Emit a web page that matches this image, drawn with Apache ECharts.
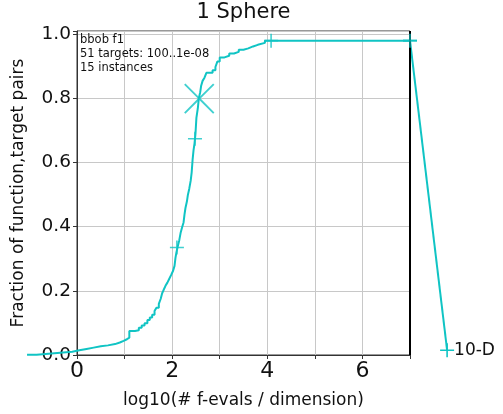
<!DOCTYPE html>
<html><head><meta charset="utf-8">
<script src="https://cdn.jsdelivr.net/npm/echarts@6/dist/echarts.min.js"></script>
<style>html,body{margin:0;padding:0;background:#fff}#c{width:503px;height:414px}</style>
</head><body><div id="c"></div>
<script>
// ECDF step points: log10(#f-evals / dimension) vs fraction of (function,target) pairs
const logEvals = [-1.05,-0.85,-0.6,-0.35,-0.1,0.05,0.2,0.35,0.5,0.65,0.8,0.9,0.98,1.05,1.1,1.22,1.3,1.36,1.42,1.48,1.53,1.58,1.63,1.67,1.72,1.76,1.79,1.82,1.86,1.9,1.94,1.98,2.02,2.05,2.07,2.09,2.12,2.15,2.18,2.21,2.24,2.26,2.28,2.31,2.33,2.36,2.39,2.41,2.43,2.45,2.47,2.49,2.51,2.54,2.56,2.59,2.61,2.64,2.68,2.72,2.85,2.91,2.95,3.0,3.1,3.2,3.3,3.4,3.5,3.6,3.7,3.8,3.95,7.0];
const fractions = [0.004,0.007,0.010,0.013,0.018,0.022,0.026,0.030,0.033,0.037,0.042,0.047,0.052,0.057,0.078,0.080,0.088,0.095,0.102,0.112,0.120,0.128,0.140,0.150,0.162,0.178,0.195,0.205,0.218,0.228,0.240,0.252,0.265,0.280,0.305,0.322,0.342,0.360,0.384,0.400,0.415,0.440,0.460,0.480,0.500,0.520,0.545,0.570,0.610,0.640,0.660,0.690,0.740,0.770,0.800,0.820,0.840,0.855,0.865,0.880,0.888,0.898,0.915,0.928,0.933,0.940,0.945,0.952,0.956,0.962,0.967,0.973,0.980,0.980];
const plusX = [2.1, 2.48, 4.08, 7.0];
const plusY = [0.337, 0.675, 0.980, 0.980];
const starX = [2.57];
const starY = [0.80];
const tailX = [7.0, 7.78];
const tailY = [0.98, 0.018];
const dimLabel = '10-D';
const xTicks = [0, 2, 4, 6];
const yTicks = [0.0, 0.2, 0.4, 0.6, 0.8, 1.0];
const titleText = '1 Sphere';
const infoText = 'bbob f1\n51 targets: 100..1e-08\n15 instances';

const COLOR = '#10c4c4';
const FONT = 'DejaVu Sans';
const plusPath = 'path://M6.2,0 H7.8 V6.2 H14 V7.8 H7.8 V14 H6.2 V7.8 H0 V6.2 H6.2 Z';
const crossPath = 'path://M14.3,0 H15.7 V14.3 H30 V15.7 H15.7 V30 H14.3 V15.7 H0 V14.3 H14.3 Z';

// main plot frame
const W = 503, L = 77, R = 93, T = 31, B = 58;
const XMIN = 0, XMAX = 7;
const pxPerUnit = (W - L - R) / (XMAX - XMIN);
// overlay grid with wider x extent but same scale (lets the curve run outside the frame)
const OX0 = -1.2, OX1 = 8;
const oLeft = L - (XMIN - OX0) * pxPerUnit;
const oRight = W - (L + (OX1 - XMIN) * pxPerUnit);

const chart = echarts.init(document.getElementById('c'), null, {renderer: 'canvas'});
chart.setOption({
  animation: false,
  backgroundColor: '#fff',
  grid: [
    {left: L, right: R, top: T, bottom: B, show: true, borderColor: '#333', borderWidth: 1, backgroundColor: 'transparent'},
    {left: oLeft, right: oRight, top: T, bottom: B, show: false}
  ],
  xAxis: [{
    type: 'value', min: XMIN, max: XMAX, interval: 1, gridIndex: 0,
    axisLine: {onZero: false, lineStyle: {color: '#333', width: 1}},
    axisTick: {show: true, length: 4, lineStyle: {color: '#333'}},
    axisLabel: {fontFamily: FONT, fontSize: 22, color: '#111', margin: 5,
      formatter: v => xTicks.indexOf(Math.round(v)) >= 0 && Math.abs(v - Math.round(v)) < 1e-6 ? String(Math.round(v)) : ''},
    splitLine: {show: true, lineStyle: {color: '#c8c8c8', width: 1}},
    name: 'log10(# f-evals / dimension)', nameLocation: 'middle', nameGap: 37,
    nameTextStyle: {fontFamily: FONT, fontSize: 17, color: '#111'}
  }, {
    type: 'value', min: OX0, max: OX1, gridIndex: 1, show: false
  }],
  yAxis: [{
    type: 'value', min: 0, max: 1.01, interval: 0.2, gridIndex: 0,
    axisLine: {show: true, lineStyle: {color: '#333', width: 1}},
    axisTick: {show: true, length: 4, lineStyle: {color: '#333'}},
    axisLabel: {fontFamily: FONT, fontSize: 18.5, color: '#111', margin: 6,
      formatter: v => { const k = yTicks.findIndex(t => Math.abs(t - v) < 1e-6); return k >= 0 ? yTicks[k].toFixed(1) : ''; }},
    splitLine: {show: true, lineStyle: {color: '#c8c8c8', width: 1}},
    name: 'Fraction of function,target pairs', nameLocation: 'middle', nameGap: 50,
    nameTextStyle: {fontFamily: FONT, fontSize: 17, color: '#111'}
  }, {
    type: 'value', min: 0, max: 1.01, gridIndex: 1, show: false
  }],
  graphic: [
    {type: 'text', x: 243.5, y: 2, style: {text: titleText, font: '21px "DejaVu Sans"', fill: '#111', textAlign: 'center', textVerticalAlign: 'top'}},
    {type: 'text', x: 80, y: 33, z: 10, style: {text: infoText, font: '11.5px "DejaVu Sans"', fill: '#111', lineHeight: 14, textVerticalAlign: 'top'}}
  ],
  series: [
    {
      type: 'line', xAxisIndex: 0, yAxisIndex: 0, data: [], silent: true,
      markLine: {silent: true, symbol: 'none', label: {show: false}, animation: false,
        lineStyle: {color: '#000', width: 2, type: 'solid'}, data: [{xAxis: 7}]}
    },
    {
      type: 'line', xAxisIndex: 1, yAxisIndex: 1, step: 'end', clip: false, showSymbol: false, silent: true,
      data: logEvals.map((x, i) => [x, fractions[i]]),
      lineStyle: {color: COLOR, width: 2}, z: 3
    },
    {
      type: 'line', xAxisIndex: 1, yAxisIndex: 1, clip: false, silent: true, showSymbol: true, showAllSymbol: true,
      symbol: plusPath, symbolSize: 14,
      data: tailX.map((x, i) => [x, tailY[i]]),
      lineStyle: {color: COLOR, width: 2}, itemStyle: {color: COLOR},
      label: {show: true, position: 'right', distance: 0, fontFamily: FONT, fontSize: 17, color: '#111',
        formatter: p => p.dataIndex === tailX.length - 1 ? dimLabel : ''},
      z: 4
    },
    {
      type: 'scatter', xAxisIndex: 1, yAxisIndex: 1, clip: false, silent: true, symbol: plusPath, symbolSize: 14,
      data: plusX.map((x, i) => [x, plusY[i]]), itemStyle: {color: COLOR}, z: 5
    },
    {
      type: 'scatter', xAxisIndex: 1, yAxisIndex: 1, clip: false, silent: true, symbol: crossPath, symbolSize: 41, symbolRotate: 45,
      data: starX.map((x, i) => [x, starY[i]]), itemStyle: {color: COLOR}, z: 5
    }
  ]
});
</script></body></html>
